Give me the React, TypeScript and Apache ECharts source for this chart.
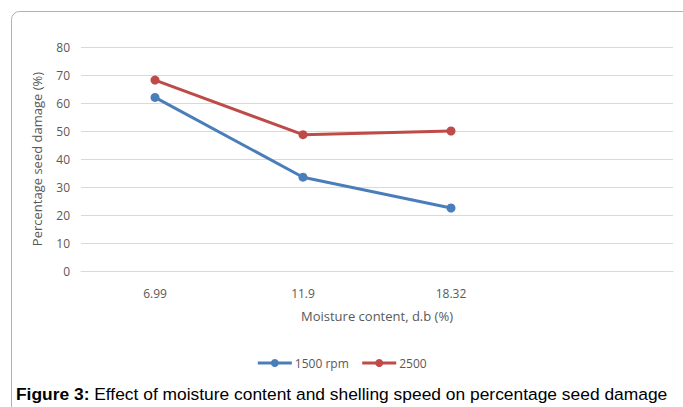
import React, { useEffect, useRef } from "react";
import * as echarts from "echarts";

const categories = ["6.99", "11.9", "18.32", ""];
const rpm1500 = [62.0, 33.5, 22.5];
const rpm2500 = [68.2, 48.7, 50.0];
const seriesNames = ["1500 rpm", "2500"];
const yTicks = { min: 0, max: 80, interval: 10 };

const FONT = "'Open Sans', 'Noto Sans', sans-serif";

export default function App() {
  const ref = useRef<HTMLDivElement>(null);
  useEffect(() => {
    if (!ref.current) return;
    const chart = echarts.init(ref.current, undefined, { renderer: "svg" });
    chart.setOption({
      animation: false,
      backgroundColor: "#ffffff",
      grid: { left: 81, right: 10, top: 47, bottom: 136, containLabel: false },
      xAxis: {
        type: "category",
        data: categories,
        boundaryGap: true,
        axisLine: { show: true, lineStyle: { color: "#d9d9d9", width: 1 } },
        axisTick: { show: false },
        axisLabel: { color: "#595959", fontFamily: FONT, fontSize: 12, margin: 16 },
        name: "Moisture content, d.b (%)",
        nameLocation: "middle",
        nameGap: 38,
        nameTextStyle: { color: "#595959", fontFamily: FONT, fontSize: 13 },
      },
      yAxis: {
        type: "value",
        min: yTicks.min,
        max: yTicks.max,
        interval: yTicks.interval,
        axisLine: { show: false },
        axisTick: { show: false },
        splitLine: { lineStyle: { color: "#d9d9d9", width: 1 } },
        axisLabel: { color: "#595959", fontFamily: FONT, fontSize: 12, margin: 11 },
        name: "Percentage seed damage (%)",
        nameLocation: "middle",
        nameGap: 38,
        nameRotate: 90,
        nameTextStyle: { color: "#595959", fontFamily: FONT, fontSize: 13 },
      },
      legend: {
        show: true,
        top: 352,
        left: "center",
        itemWidth: 34,
        itemHeight: 10,
        itemGap: 12,
        lineStyle: { width: 3 },
        textStyle: { color: "#595959", fontFamily: FONT, fontSize: 12, padding: [0, 0, 0, -2] },
        data: seriesNames,
      },
      series: [
        {
          name: seriesNames[0],
          type: "line",
          data: rpm1500,
          symbol: "circle",
          symbolSize: 9,
          lineStyle: { color: "#4a7ebb", width: 3 },
          itemStyle: { color: "#4a7ebb" },
        },
        {
          name: seriesNames[1],
          type: "line",
          data: rpm2500,
          symbol: "circle",
          symbolSize: 9,
          lineStyle: { color: "#be4b48", width: 3 },
          itemStyle: { color: "#be4b48" },
        },
      ],
      graphic: [
        {
          type: "rect",
          z: -10,
          silent: true,
          shape: { x: 11.5, y: 11.5, width: 720, height: 440, r: 8 },
          style: { fill: "none", stroke: "#b0b0b0", lineWidth: 1 },
        },
        {
          type: "text",
          left: 16,
          top: 385,
          z: 10,
          style: {
            text: "{b|Figure 3:} Effect of moisture content and shelling speed on percentage seed damage",
            font: "17.4px 'Liberation Sans', Arial, sans-serif",
            fill: "#000000",
            rich: {
              b: { fontWeight: "bold", fontSize: 17.4, fontFamily: "'Liberation Sans', Arial, sans-serif", fill: "#000000" },
            },
          },
        },
      ],
    });
    return () => chart.dispose();
  }, []);
  return (
    <div
      ref={ref}
      style={{ position: "fixed", left: 0, top: 0, width: 683, height: 407, overflow: "hidden" }}
    />
  );
}
